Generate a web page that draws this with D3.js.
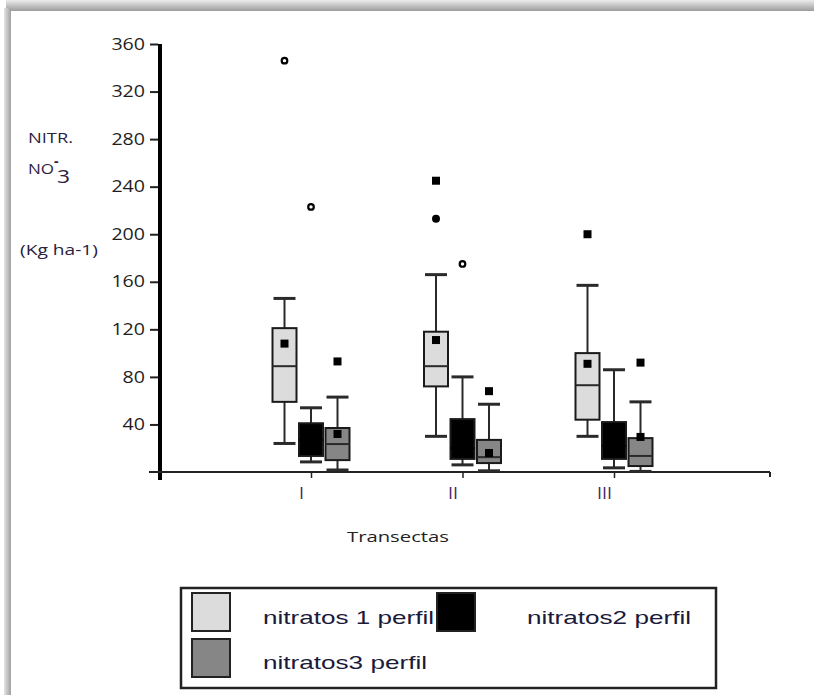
<!DOCTYPE html>
<html lang="es"><head>
<meta charset="utf-8">
<title>Nitratos por transecta</title>
<script src="https://cdn.jsdelivr.net/npm/d3@7"></script>
<style>
  body { margin: 0; background: #fff; }
  svg { display: block; }
</style>
</head>
<body>
<script>
// datos
var categorias = ["I", "II", "III"];
var series = ["nitratos 1 perfil", "nitratos2 perfil", "nitratos3 perfil"];
var colores = ["#dcdcdc", "#000000", "#868686"];

// [min, q1, mediana, q3, max] por transecta
var perfil1 = [[24, 59, 89, 121, 146], [30, 72, 89, 118, 166], [30, 44, 73, 100, 157]];
var perfil2 = [[8.5, 13.5, 27, 41, 54], [6, 11, 20, 44.5, 80], [3.5, 11, 22, 42, 86]];
var perfil3 = [[1.7, 10, 23.5, 37, 63], [1, 7.5, 12.5, 27, 57], [0.5, 5, 13.5, 28.5, 59]];

// medias (la del perfil 2 no se ve, negro sobre negro)
var medias1 = [108, 111, 91];
var medias3 = [32, 16, 29.5];

// valores atipicos por transecta, y su simbolo (s = cuadrado, o = circulo hueco, d = punto)
var atipicos1 = [[346], [245, 213], [200]];
var simbolos1 = [["o"], ["s", "d"], ["s"]];
var atipicos2 = [[223], [175], []];
var simbolos2 = [["o"], ["o"], []];
var atipicos3 = [[93], [68], [92]];
var simbolos3 = [["s"], ["s"], ["s"]];

var yTicks = [40, 80, 120, 160, 200, 240, 280, 320, 360];

var w = 814, h = 695;

var svg = d3.select("body").append("svg")
  .attr("width", w)
  .attr("height", h);

// marco con sombra arriba e izquierda
var defs = svg.append("defs");
var gTop = defs.append("linearGradient").attr("id", "gTop").attr("x1", 0).attr("y1", 0).attr("x2", 0).attr("y2", 1);
gTop.append("stop").attr("offset", "0%").attr("stop-color", "#ececec");
gTop.append("stop").attr("offset", "100%").attr("stop-color", "#9c9c9c");
var gLeft = defs.append("linearGradient").attr("id", "gLeft").attr("x1", 0).attr("y1", 0).attr("x2", 1).attr("y2", 0);
gLeft.append("stop").attr("offset", "0%").attr("stop-color", "#e4e4e4");
gLeft.append("stop").attr("offset", "100%").attr("stop-color", "#a0a0a0");
svg.append("rect").attr("x", 6).attr("y", 0).attr("width", w - 6).attr("height", 11).attr("fill", "url(#gTop)");
svg.append("rect").attr("x", 4).attr("y", 8).attr("width", 7).attr("height", h - 8).attr("fill", "url(#gLeft)");

var y = d3.scaleLinear().domain([0, 360]).range([472, 44]);
var x = d3.scalePoint().domain(categorias).range([311, 614]);
var desp = d3.scalePoint().domain(series).range([-26.5, 26.5]);

var boxW = 24, capW = 22;

// funcion para estirar el texto como en el original
function estirar(sel, largo) {
  sel.attr("textLength", largo).attr("lengthAdjust", "spacingAndGlyphs");
}

// eje y
var gy = svg.append("g")
  .attr("transform", "translate(158,0)")
  .call(d3.axisLeft(y).tickValues(yTicks).tickSize(8).tickPadding(5));
gy.select(".domain").remove();
gy.selectAll("line").attr("stroke", "#222").attr("stroke-width", 2);
gy.selectAll("text")
  .attr("font-family", "Open Sans")
  .attr("font-size", 16)
  .attr("fill", "#1e1e1e")
  .each(function(d) { estirar(d3.select(this), String(d).length * 11.2); });

svg.append("line")
  .attr("x1", 160).attr("x2", 160)
  .attr("y1", y(360)).attr("y2", 480)
  .attr("stroke", "#000").attr("stroke-width", 4);

// eje x
svg.append("line")
  .attr("x1", 149).attr("x2", 770)
  .attr("y1", y(0)).attr("y2", y(0))
  .attr("stroke", "#222").attr("stroke-width", 2);
svg.append("line")
  .attr("x1", 770).attr("x2", 770)
  .attr("y1", y(0)).attr("y2", y(0) + 5)
  .attr("stroke", "#222").attr("stroke-width", 2);

var gx = svg.append("g")
  .attr("transform", "translate(0," + (y(0) + 1) + ")")
  .call(d3.axisBottom(x).tickSize(5).tickPadding(10));
gx.select(".domain").remove();
gx.selectAll("line").attr("stroke", "#222").attr("stroke-width", 1.5);
gx.selectAll("text")
  .attr("x", -10)
  .attr("font-family", "Open Sans")
  .attr("font-size", 16)
  .attr("fill", "#4a2a6a")
  .each(function(d) { estirar(d3.select(this), d.length * 5); });

// cajas
var perfiles = [perfil1, perfil2, perfil3];
var medias = [medias1, null, medias3];
var atipicos = [atipicos1, atipicos2, atipicos3];
var simbolos = [simbolos1, simbolos2, simbolos3];

perfiles.forEach(function(p, si) {
  var g = svg.append("g");
  var filas = p.map(function(v, ci) { return { cat: categorias[ci], v: v }; });
  var cx = function(d) { return x(d.cat) + desp(series[si]); };

  // bigotes
  g.selectAll(".bigote-sup").data(filas).enter().append("line")
    .attr("x1", cx).attr("x2", cx)
    .attr("y1", function(d) { return y(d.v[3]); })
    .attr("y2", function(d) { return y(d.v[4]); })
    .attr("stroke", "#2a2a2a").attr("stroke-width", 2);
  g.selectAll(".bigote-inf").data(filas).enter().append("line")
    .attr("x1", cx).attr("x2", cx)
    .attr("y1", function(d) { return y(d.v[1]); })
    .attr("y2", function(d) { return y(d.v[0]); })
    .attr("stroke", "#2a2a2a").attr("stroke-width", 2);
  [0, 4].forEach(function(k) {
    g.selectAll(".tope" + k).data(filas).enter().append("line")
      .attr("x1", function(d) { return cx(d) - capW / 2; })
      .attr("x2", function(d) { return cx(d) + capW / 2; })
      .attr("y1", function(d) { return y(d.v[k]); })
      .attr("y2", function(d) { return y(d.v[k]); })
      .attr("stroke", "#2a2a2a").attr("stroke-width", 3);
  });

  // caja
  g.selectAll("rect").data(filas).enter().append("rect")
    .attr("x", function(d) { return cx(d) - boxW / 2; })
    .attr("y", function(d) { return y(d.v[3]); })
    .attr("width", boxW)
    .attr("height", function(d) { return y(d.v[1]) - y(d.v[3]); })
    .attr("fill", colores[si])
    .attr("stroke", "#1a1a1a").attr("stroke-width", 2);

  // mediana (en la caja negra no se distingue)
  g.selectAll(".mediana").data(filas).enter().append("line")
    .attr("x1", function(d) { return cx(d) - boxW / 2; })
    .attr("x2", function(d) { return cx(d) + boxW / 2; })
    .attr("y1", function(d) { return y(d.v[2]); })
    .attr("y2", function(d) { return y(d.v[2]); })
    .attr("stroke", colores[si] === "#000000" ? "#000" : "#2a2a2a")
    .attr("stroke-width", 2);

  // media
  if (medias[si]) {
    g.selectAll(".media").data(medias[si]).enter().append("rect")
      .attr("x", function(d, i) { return x(categorias[i]) + desp(series[si]) - 4; })
      .attr("y", function(d) { return y(d) - 4; })
      .attr("width", 8).attr("height", 8)
      .attr("fill", "#000");
  }

  // atipicos
  atipicos[si].forEach(function(vals, ci) {
    var px = x(categorias[ci]) + desp(series[si]);
    vals.forEach(function(v, j) {
      var s = simbolos[si][ci][j];
      if (s === "s") {
        g.append("rect").attr("x", px - 4).attr("y", y(v) - 4)
          .attr("width", 8).attr("height", 8).attr("fill", "#000");
      } else if (s === "d") {
        g.append("circle").attr("cx", px).attr("cy", y(v)).attr("r", 4).attr("fill", "#000");
      } else {
        g.append("circle").attr("cx", px).attr("cy", y(v)).attr("r", 2.8)
          .attr("fill", "#fff").attr("stroke", "#000").attr("stroke-width", 2.2);
      }
    });
  });
});

// titulos
var fuente = "Open Sans";
estirar(svg.append("text").attr("x", 28).attr("y", 143)
  .attr("font-family", fuente).attr("font-size", 15).attr("fill", "#2a2040")
  .text("NITR."), 45);
estirar(svg.append("text").attr("x", 28).attr("y", 174)
  .attr("font-family", fuente).attr("font-size", 15).attr("fill", "#2a2040")
  .text("NO"), 26);
svg.append("text").attr("x", 54).attr("y", 166)
  .attr("font-family", fuente).attr("font-size", 14).attr("font-weight", "bold").attr("fill", "#2a2040")
  .text("-");
estirar(svg.append("text").attr("x", 57).attr("y", 183)
  .attr("font-family", fuente).attr("font-size", 19).attr("fill", "#2a2040")
  .text("3"), 13);
estirar(svg.append("text").attr("x", 20).attr("y", 255)
  .attr("font-family", fuente).attr("font-size", 15).attr("fill", "#2a2040")
  .text("(Kg ha-1)"), 78);
estirar(svg.append("text").attr("x", 398).attr("y", 542)
  .attr("text-anchor", "middle")
  .attr("font-family", fuente).attr("font-size", 15).attr("fill", "#222")
  .text("Transectas"), 102);

// leyenda
svg.append("rect").attr("x", 181).attr("y", 588).attr("width", 535).attr("height", 100)
  .attr("fill", "#fff").attr("stroke", "#222").attr("stroke-width", 2.5);

var leyenda = [
  { sx: 192, sy: 593, tx: 263, ty: 624, largo: 171 },
  { sx: 437, sy: 593, tx: 527, ty: 624, largo: 164 },
  { sx: 192, sy: 639, tx: 263, ty: 669, largo: 164 }
];
series.forEach(function(s, i) {
  var l = leyenda[i];
  svg.append("rect").attr("x", l.sx).attr("y", l.sy).attr("width", 38).attr("height", 38)
    .attr("fill", colores[i]).attr("stroke", "#222").attr("stroke-width", 2);
  estirar(svg.append("text").attr("x", l.tx).attr("y", l.ty)
    .attr("font-family", "Liberation Sans").attr("font-size", 19).attr("fill", "#1a1a3a")
    .text(s), l.largo);
});
</script>
</body></html>
